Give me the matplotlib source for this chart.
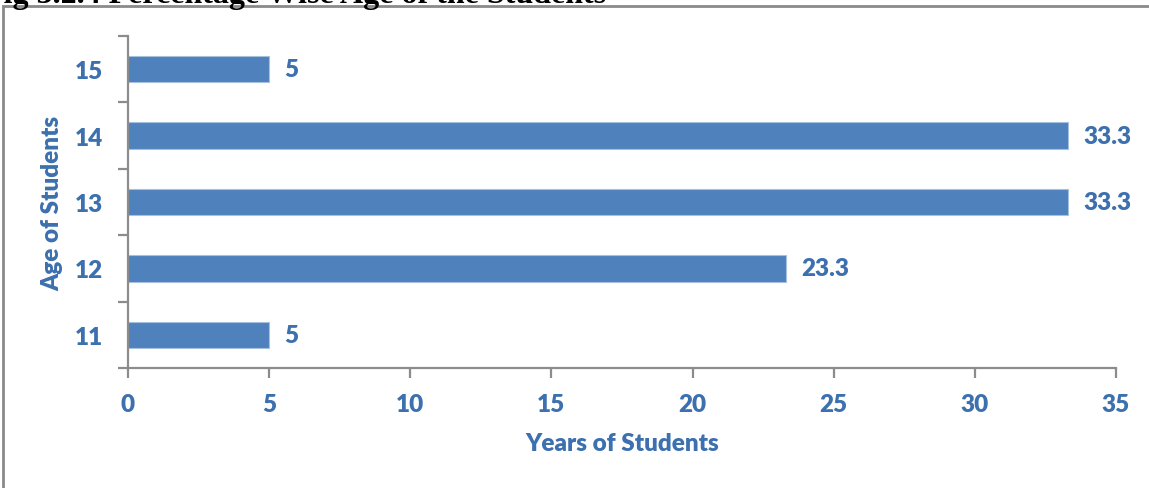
import matplotlib
matplotlib.use("Agg")
import matplotlib.pyplot as plt
from matplotlib.patches import Rectangle
from matplotlib.ticker import FixedLocator, NullFormatter

ages = ["11", "12", "13", "14", "15"]
percent = [5, 23.3, 33.3, 33.3, 5]
x_ticks = [0, 5, 10, 15, 20, 25, 30, 35]

title = "Fig 3.2.4 Percentage Wise Age of the Students"
x_label = "Years of Students"
y_label = "Age of Students"

BLUE = "#4F81BD"
TXT = "#3C70AE"
GRAY = "#8C8C8C"
FONT = ["Lato", "DejaVu Sans"]
WEIGHT = "heavy"
FS = 17.5

W, H = 1149, 489
fig = plt.figure(figsize=(W / 100, H / 100), dpi=100)
fig.patch.set_facecolor("white")

# outer frame around the chart area
fig.patches.append(Rectangle((3 / W, -0.1), 1.2, (H - 7) / H + 0.1,
                             transform=fig.transFigure, fill=False,
                             edgecolor="#8a8a8a", linewidth=2.0))

# caption sitting above the frame
fig.text(-16 / W, 1 - 3 / H, title, family=["Liberation Serif"], fontweight="bold",
         fontsize=23, ha="left", va="baseline", color="black")

left, right, top, bottom = 128, 1116, 37, 369
ax = fig.add_axes([left / W, 1 - bottom / H, (right - left) / W, (bottom - top) / H])

pos = list(range(len(ages)))
bars = ax.barh(pos, percent, height=0.4, color=BLUE, edgecolor="#A7C0DE", linewidth=0.8)

ax.set_xlim(0, 35)
ax.set_ylim(-0.5, len(ages) - 0.5)

ax.set_xticks(x_ticks)
ax.set_xticklabels([str(t) for t in x_ticks])
ax.set_yticks(pos)
ax.set_yticklabels(ages)
ax.yaxis.set_minor_locator(FixedLocator([p - 0.5 for p in pos] + [pos[-1] + 0.5]))
ax.yaxis.set_minor_formatter(NullFormatter())

ax.tick_params(axis="y", which="major", length=0, pad=18)
ax.tick_params(axis="y", which="minor", length=7, width=1.6, color=GRAY, direction="out")
ax.tick_params(axis="x", which="major", length=7, width=1.6, color=GRAY, direction="out", pad=11)

for lab in ax.get_xticklabels() + ax.get_yticklabels():
    lab.set_family(FONT)
    lab.set_fontweight(WEIGHT)
    lab.set_fontsize(FS)
    lab.set_color(TXT)

for side in ("top", "right"):
    ax.spines[side].set_visible(False)
for side in ("left", "bottom"):
    ax.spines[side].set_color(GRAY)
    ax.spines[side].set_linewidth(1.6)

for b, v in zip(bars, percent):
    ax.annotate(f"{v:g}", (b.get_width(), b.get_y() + b.get_height() / 2),
                xytext=(11, 0), textcoords="offset points", va="center", ha="left",
                family=FONT, fontweight=WEIGHT, fontsize=FS, color=TXT)

ax.set_xlabel(x_label, family=FONT, fontweight=WEIGHT, fontsize=FS, color=TXT, labelpad=12)
ax.set_ylabel(y_label, family=FONT, fontweight=WEIGHT, fontsize=FS, color=TXT, labelpad=8)

fig.savefig("out.png", dpi=100, facecolor="white")
